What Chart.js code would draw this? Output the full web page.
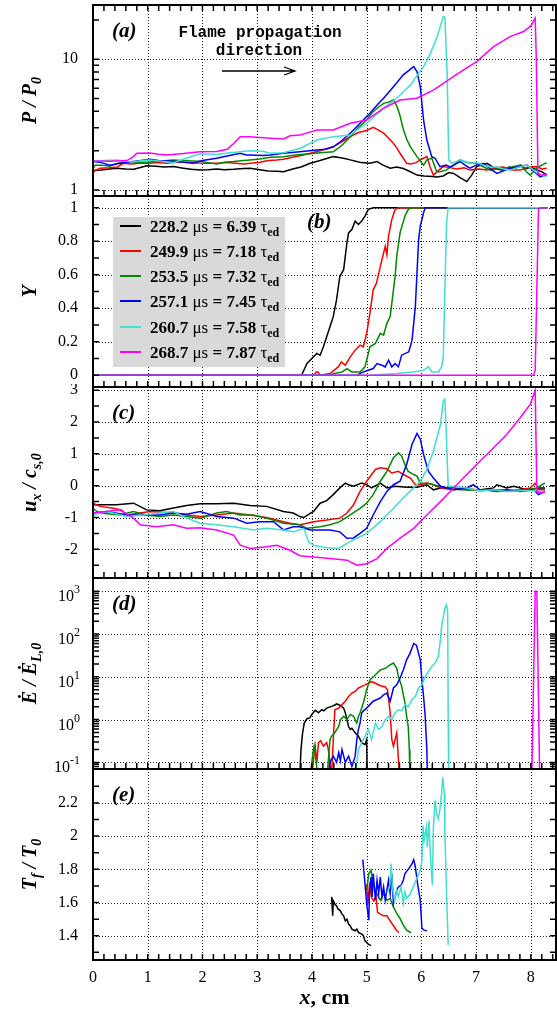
<!DOCTYPE html>
<html>
<head>
<meta charset="utf-8">
<script src="https://cdn.jsdelivr.net/npm/chart.js@4.4.1/dist/chart.umd.min.js"></script>
<style>
  html, body { margin:0; padding:0; background:#fff; }
  #page { position:relative; width:557px; height:1011px; overflow:hidden; background:#fff; }
  #page canvas { position:absolute; left:0; }
  #legend { position:absolute; left:113px; top:217px; width:172px; height:150px; background:#d9d9d9;
            font: bold 17px "Liberation Serif", "DejaVu Serif", serif; color:#000; z-index:5; }
  .row { position:absolute; left:0; width:172px; height:25px; }
  .swatch { position:absolute; left:7px; top:11px; width:21px; height:0; border-top:2px solid #000; }
  .lbl { position:absolute; left:37px; top:0; white-space:nowrap; line-height:25px; }
  .lbl .g { font-weight:normal; }
  .lbl sub { font-size:12px; vertical-align:-4px; line-height:0; }
</style>
</head>
<body>
<div id="page"><div id="legend"></div></div>
<script>
// ---------------- series meta ----------------
const SERIES_TIMES = ['228.2', '249.9', '253.5', '257.1', '260.7', '268.7'];
const SERIES_TAUS  = ['6.39', '7.18', '7.32', '7.45', '7.58', '7.87'];
const SERIES_COLORS = ['#000000', '#ff0000', '#008a00', '#0000ff', '#40e0d0', '#ff00ff'];

// ---------------- x axis ----------------
const X_MIN = 0, X_MAX = 8.46;
const X_MAJOR = [0, 1, 2, 3, 4, 5, 6, 7, 8];
const X_TICK_LABELS = ['0', '1', '2', '3', '4', '5', '6', '7', '8'];

// ---------------- (a) pressure P/P0 ----------------
const A_MAJOR = [1, 10];
const A_MINOR = [2, 3, 4, 5, 6, 7, 8, 9, 20];
const A_LABELS = ['1', '10'];
const P_228 = [[0,1.41],[0.15,1.42],[0.3,1.45],[0.43,1.47],[0.6,1.45],[0.75,1.44],[0.9,1.5],[0.98,1.53],[1.15,1.52],[1.3,1.5],[1.47,1.51],[1.65,1.47],[1.8,1.44],[1.96,1.42],[2.1,1.43],[2.26,1.45],[2.4,1.43],[2.57,1.44],[2.75,1.46],[2.87,1.47],[3.05,1.43],[3.2,1.4],[3.36,1.39],[3.48,1.38],[3.65,1.45],[3.8,1.5],[3.97,1.6],[4.15,1.68],[4.3,1.76],[4.39,1.8],[4.5,1.77],[4.6,1.74],[4.7,1.7],[4.8,1.66],[4.9,1.62],[5.06,1.6],[5.19,1.65],[5.3,1.55],[5.43,1.47],[5.55,1.5],[5.67,1.46],[5.8,1.38],[5.92,1.3],[6.05,1.28],[6.2,1.27],[6.28,1.26],[6.4,1.28],[6.5,1.36],[6.59,1.34],[6.7,1.25],[6.83,1.16],[6.92,1.3],[7.01,1.51],[7.1,1.55],[7.2,1.6],[7.3,1.5],[7.4,1.44],[7.5,1.42],[7.6,1.5],[7.7,1.45],[7.81,1.55],[7.9,1.45],[8.0,1.5],[8.11,1.42],[8.2,1.38],[8.29,1.3]];
const P_249 = [[0,1.37],[0.06,1.42],[0.13,1.47],[0.3,1.48],[0.45,1.5],[0.55,1.6],[0.7,1.58],[0.85,1.6],[1.04,1.6],[1.2,1.62],[1.35,1.6],[1.5,1.63],[1.71,1.63],[1.9,1.61],[2.1,1.6],[2.26,1.6],[2.45,1.62],[2.6,1.6],[2.77,1.58],[2.87,1.6],[3.05,1.63],[3.2,1.68],[3.36,1.7],[3.48,1.72],[3.65,1.78],[3.84,1.85],[3.97,1.91],[4.15,2.0],[4.39,2.14],[4.55,2.35],[4.7,2.56],[4.85,2.75],[5.0,2.85],[5.12,3.02],[5.2,2.9],[5.31,2.72],[5.4,2.5],[5.49,2.27],[5.55,2.1],[5.61,1.91],[5.67,1.75],[5.73,1.6],[5.8,1.58],[5.9,1.62],[6.0,1.72],[6.1,1.8],[6.16,1.5],[6.22,1.3],[6.32,1.42],[6.4,1.51],[6.5,1.49],[6.65,1.45],[6.78,1.48],[6.89,1.42],[7.05,1.45],[7.2,1.42],[7.35,1.48],[7.5,1.5],[7.65,1.42],[7.81,1.42],[7.95,1.5],[8.11,1.51],[8.2,1.45],[8.29,1.47]];
const P_253 = [[0,1.45],[0.04,1.55],[0.15,1.55],[0.3,1.52],[0.45,1.6],[0.62,1.65],[0.8,1.62],[1.04,1.64],[1.2,1.66],[1.47,1.7],[1.6,1.68],[1.8,1.67],[1.96,1.66],[2.1,1.62],[2.26,1.58],[2.4,1.63],[2.57,1.65],[2.75,1.68],[2.87,1.7],[3.05,1.73],[3.24,1.78],[3.48,1.8],[3.7,1.85],[3.97,1.89],[4.15,1.93],[4.39,1.96],[4.55,2.2],[4.7,2.56],[4.85,3.0],[5.0,3.43],[5.1,3.9],[5.19,4.22],[5.31,4.6],[5.4,4.7],[5.49,4.88],[5.55,4.4],[5.61,3.7],[5.67,2.9],[5.74,2.4],[5.8,2.14],[5.92,1.8],[6.04,1.55],[6.1,1.7],[6.19,1.75],[6.28,1.38],[6.34,1.38],[6.45,1.42],[6.59,1.55],[6.71,1.7],[6.83,1.62],[7.0,1.6],[7.14,1.5],[7.26,1.42],[7.38,1.45],[7.5,1.47],[7.65,1.5],[7.81,1.55],[7.92,1.38],[7.99,1.3],[8.11,1.48],[8.2,1.55],[8.29,1.62]];
const P_257 = [[0,1.65],[0.15,1.62],[0.31,1.55],[0.5,1.6],[0.74,1.65],[1.04,1.72],[1.2,1.68],[1.53,1.65],[1.7,1.62],[1.83,1.6],[2.0,1.68],[2.26,1.75],[2.45,1.82],[2.69,1.91],[2.8,1.85],[2.87,1.85],[3.1,1.84],[3.24,1.85],[3.48,1.91],[3.78,1.96],[4.09,2.02],[4.25,2.05],[4.39,2.14],[4.52,2.34],[4.7,2.72],[4.88,3.24],[5.06,3.86],[5.2,4.5],[5.31,5.03],[5.49,6.17],[5.67,7.6],[5.86,8.78],[5.92,8.05],[5.98,6.17],[6.04,3.43],[6.1,2.41],[6.19,1.8],[6.25,1.75],[6.34,1.51],[6.45,1.55],[6.53,1.5],[6.71,1.65],[6.85,1.5],[6.89,1.47],[7.0,1.55],[7.14,1.6],[7.26,1.45],[7.38,1.34],[7.5,1.4],[7.62,1.47],[7.75,1.5],[7.93,1.55],[8.05,1.4],[8.17,1.26],[8.29,1.32]];
const P_260 = [[0,1.67],[0.2,1.68],[0.43,1.7],[0.6,1.66],[0.74,1.64],[0.9,1.68],[1.04,1.7],[1.3,1.65],[1.47,1.62],[1.7,1.75],[1.96,1.89],[2.26,1.87],[2.5,1.93],[2.87,2.0],[3.1,1.98],[3.24,1.91],[3.48,1.93],[3.78,2.08],[4.09,2.41],[4.39,2.56],[4.7,2.63],[5.0,3.24],[5.31,4.22],[5.55,5.03],[5.8,6.36],[6.04,8.78],[6.16,11],[6.28,14.5],[6.4,21.2],[6.43,21],[6.47,8],[6.5,1.7],[6.56,1.6],[6.71,1.7],[6.89,1.6],[7.0,1.62],[7.14,1.55],[7.26,1.5],[7.38,1.5],[7.5,1.45],[7.62,1.42],[7.75,1.48],[7.93,1.55],[8.05,1.42],[8.11,1.35],[8.2,1.3],[8.29,1.26]];
const P_268 = [[0,1.67],[0.3,1.66],[0.62,1.68],[0.74,1.8],[0.8,1.91],[1.04,1.92],[1.2,1.88],[1.35,1.85],[1.5,1.88],[1.65,1.9],[1.96,1.96],[2.26,1.97],[2.45,2.05],[2.57,2.27],[2.69,2.56],[2.87,2.56],[3.05,2.52],[3.24,2.49],[3.48,2.46],[3.6,2.6],[3.78,2.63],[4.09,2.88],[4.39,2.88],[4.7,3.24],[5.0,3.43],[5.31,4.22],[5.61,4.88],[5.92,5.03],[6.22,5.8],[6.53,7.1],[6.75,8.2],[7.01,9.6],[7.32,12.5],[7.62,14.9],[7.87,16.3],[8.0,18],[8.08,20.6],[8.1,10],[8.13,1.34],[8.2,1.3],[8.29,1.32]];

// ---------------- (b) progress variable Y ----------------
const B_MAJOR = [0, 0.2, 0.4, 0.6, 0.8, 1];
const B_MINOR = [0.1, 0.3, 0.5, 0.7, 0.9];
const B_LABELS = ['0', '0.2', '0.4', '0.6', '0.8', '1'];
const Y_228 = [[0,0],[3.81,0],[3.91,0.07],[4.03,0.11],[4.09,0.13],[4.15,0.12],[4.21,0.17],[4.27,0.23],[4.33,0.29],[4.39,0.35],[4.45,0.45],[4.51,0.59],[4.58,0.63],[4.64,0.79],[4.67,0.85],[4.73,0.87],[4.79,0.92],[4.85,0.9],[4.91,0.92],[4.97,0.95],[5.03,0.99],[5.12,1],[8.3,1]];
const Y_249 = [[0,0],[4.03,0],[4.08,0.02],[4.11,0.02],[4.15,0],[4.33,0.01],[4.48,0.05],[4.54,0.08],[4.61,0.06],[4.7,0.11],[4.79,0.15],[4.88,0.18],[4.94,0.17],[5.0,0.25],[5.06,0.37],[5.12,0.51],[5.18,0.55],[5.25,0.65],[5.31,0.73],[5.34,0.77],[5.37,0.72],[5.4,0.83],[5.46,0.93],[5.52,0.99],[5.58,1],[8.3,1]];
const Y_253 = [[0,0],[4.33,0],[4.39,0.01],[4.55,0.02],[4.64,0.04],[4.73,0.02],[4.88,0.02],[4.97,0.05],[5.06,0.17],[5.16,0.19],[5.25,0.25],[5.31,0.24],[5.37,0.31],[5.43,0.35],[5.49,0.51],[5.52,0.59],[5.55,0.71],[5.61,0.85],[5.7,0.95],[5.76,0.99],[5.82,1],[8.3,1]];
const Y_257 = [[0,0],[4.82,0],[4.94,0.02],[5.03,0.03],[5.12,0.04],[5.19,0.07],[5.28,0.06],[5.34,0.05],[5.4,0.09],[5.46,0.05],[5.52,0.07],[5.58,0.05],[5.64,0.12],[5.77,0.14],[5.83,0.21],[5.89,0.41],[5.92,0.61],[5.95,0.81],[5.98,0.89],[6.01,0.93],[6.04,0.97],[6.07,1],[8.3,1]];
const Y_260 = [[0,0],[5.06,0],[5.55,0.01],[5.86,0.02],[6.04,0.03],[6.13,0.05],[6.19,0.02],[6.31,0.02],[6.37,0.05],[6.4,0.11],[6.43,0.51],[6.46,0.91],[6.49,1],[8.3,1]];
const Y_268 = [[0,0],[8.05,0],[8.08,0.03],[8.11,0.51],[8.14,0.99],[8.17,1],[8.3,1]];

// ---------------- (c) flow velocity ux/cs0 ----------------
const C_MAJOR = [-2, -1, 0, 1, 2, 3];
const C_MINOR = [-2.5, -1.5, -0.5, 0.5, 1.5, 2.5];
const C_LABELS = ['-2', '-1', '0', '1', '2', '3'];
const U_228 = [[0,-0.6],[0.43,-0.6],[0.74,-0.55],[0.98,-0.76],[1.22,-0.79],[1.47,-0.7],[1.71,-0.62],[1.96,-0.57],[2.26,-0.57],[2.57,-0.55],[2.87,-0.62],[3.17,-0.65],[3.48,-0.81],[3.54,-0.83],[3.66,-0.86],[3.78,-0.97],[3.85,-1.0],[3.94,-0.9],[4.03,-0.81],[4.15,-0.55],[4.27,-0.47],[4.39,-0.28],[4.51,-0.07],[4.61,0.08],[4.67,0.03],[4.76,-0.02],[4.91,0.08],[5.0,0.03],[5.09,-0.07],[5.25,0.08],[5.37,-0.07],[5.52,-0.02],[5.73,-0.05],[5.92,-0.05],[6.1,0.03],[6.22,-0.13],[6.35,-0.07],[6.59,-0.07],[6.83,-0.13],[7.08,-0.13],[7.32,-0.07],[7.38,0.03],[7.56,-0.07],[7.69,-0.02],[7.93,-0.13],[8.17,-0.07],[8.26,-0.07]];
const U_249 = [[0,-0.55],[0.13,-0.65],[0.37,-0.71],[0.52,-0.76],[0.62,-0.92],[0.86,-0.86],[1.04,-0.81],[1.47,-0.86],[1.71,-0.92],[1.96,-0.97],[2.26,-0.92],[2.57,-0.86],[2.87,-0.92],[3.17,-1.0],[3.48,-1.13],[3.6,-1.18],[3.78,-1.23],[3.91,-1.18],[4.03,-1.13],[4.27,-1.08],[4.51,-1.02],[4.64,-0.86],[4.76,-0.6],[4.88,-0.18],[5.0,0.14],[5.16,0.51],[5.25,0.56],[5.37,0.53],[5.46,0.4],[5.58,0.45],[5.67,0.35],[5.8,0.24],[5.89,0.03],[5.98,0.03],[6.1,0.08],[6.22,0.03],[6.35,-0.07],[6.59,-0.13],[6.83,-0.07],[7.07,-0.16],[7.32,-0.13],[7.56,-0.16],[7.81,-0.13],[7.99,-0.07],[8.08,0.08],[8.14,-0.13],[8.26,-0.13]];
const U_253 = [[0,-0.71],[0.07,-0.81],[0.13,-0.86],[0.49,-0.92],[0.74,-0.81],[0.98,-0.92],[1.22,-0.97],[1.47,-0.92],[1.71,-0.97],[1.96,-1.02],[2.26,-0.86],[2.44,-0.81],[2.69,-0.92],[2.93,-0.92],[3.17,-1.02],[3.48,-1.18],[3.78,-1.23],[3.91,-1.34],[4.15,-1.29],[4.33,-1.23],[4.51,-1.13],[4.7,-0.92],[4.88,-0.71],[5.0,-0.55],[5.12,-0.28],[5.25,0.14],[5.37,0.45],[5.49,0.88],[5.58,1.03],[5.64,0.93],[5.7,0.66],[5.76,0.45],[5.86,0.35],[5.92,0.3],[5.98,0.08],[6.1,0.08],[6.22,0.03],[6.46,-0.07],[6.71,-0.13],[6.95,-0.13],[7.2,-0.13],[7.38,-0.18],[7.69,-0.16],[7.93,-0.13],[8.11,-0.07],[8.2,0.03],[8.26,0.08]];
const U_257 = [[0,-0.86],[0.25,-0.81],[0.62,-0.92],[0.92,-0.92],[1.22,-0.92],[1.47,-0.86],[1.71,-0.9],[1.96,-0.81],[2.26,-0.97],[2.57,-1.02],[2.81,-1.18],[3.05,-1.13],[3.3,-1.13],[3.48,-1.39],[3.66,-1.29],[3.78,-1.29],[3.97,-1.39],[4.15,-1.39],[4.33,-1.39],[4.51,-1.45],[4.64,-1.65],[4.76,-1.64],[4.88,-1.5],[5.0,-1.34],[5.12,-0.92],[5.25,-0.5],[5.37,-0.18],[5.49,0.03],[5.61,0.14],[5.73,0.66],[5.83,1.3],[5.92,1.64],[5.98,1.46],[6.04,0.98],[6.13,0.45],[6.22,0.24],[6.35,-0.02],[6.59,-0.13],[6.83,-0.07],[6.95,0.03],[7.07,-0.13],[7.32,-0.16],[7.56,-0.13],[7.81,-0.18],[8.05,-0.13],[8.14,-0.28],[8.26,-0.18]];
const U_260 = [[0,-0.92],[0.25,-0.81],[0.62,-0.97],[0.92,-0.92],[1.22,-0.86],[1.47,-0.81],[1.71,-1.02],[1.96,-1.18],[2.26,-1.23],[2.57,-1.29],[2.93,-1.39],[3.17,-1.34],[3.48,-1.39],[3.66,-1.45],[3.85,-1.34],[3.94,-1.77],[4.03,-1.87],[4.27,-1.95],[4.49,-1.97],[4.64,-1.81],[4.82,-1.65],[5.0,-1.5],[5.25,-1.13],[5.49,-0.71],[5.73,-0.28],[5.98,0.14],[6.1,0.51],[6.22,1.09],[6.35,1.93],[6.4,2.67],[6.43,2.72],[6.46,1.4],[6.49,-0.02],[6.59,-0.02],[6.83,-0.07],[7.07,-0.16],[7.32,-0.13],[7.56,-0.18],[7.81,-0.16],[8.05,-0.16],[8.26,-0.2]];
const U_268 = [[0,-0.86],[0.25,-0.81],[0.49,-0.76],[0.74,-1.02],[0.86,-1.23],[1.16,-1.29],[1.47,-1.23],[1.71,-1.34],[1.96,-1.32],[2.26,-1.39],[2.57,-1.55],[2.69,-1.87],[2.87,-1.97],[3.17,-1.92],[3.36,-1.87],[3.6,-2.03],[3.78,-2.2],[4.03,-2.24],[4.33,-2.29],[4.64,-2.34],[4.82,-2.5],[5.0,-2.45],[5.19,-2.29],[5.37,-1.97],[5.61,-1.65],[5.86,-1.34],[6.1,-0.92],[6.35,-0.5],[6.59,-0.07],[6.83,0.35],[7.07,0.77],[7.32,1.19],[7.56,1.61],[7.81,2.14],[7.99,2.56],[8.08,2.99],[8.11,-0.18],[8.17,-0.23],[8.26,-0.2]];

// ---------------- (d) energy release rate ----------------
const D_MAJOR = [0.1, 1, 10, 100, 1000];
const D_MINOR = [0.08,0.09,0.2,0.3,0.4,0.5,0.6,0.7,0.8,0.9,2,3,4,5,6,7,8,9,20,30,40,50,60,70,80,90,200,300,400,500,600,700,800,900,2000];
const D_EXPONENTS = ['-1', '0', '1', '2', '3'];
const E_228 = [[3.78,0.05],[3.8,0.2],[3.83,0.49],[3.86,0.83],[3.91,1.05],[3.96,1.1],[4.0,1.32],[4.06,1.66],[4.12,1.45],[4.18,1.7],[4.22,1.6],[4.27,1.86],[4.36,2.04],[4.42,2.2],[4.45,2.34],[4.52,2.14],[4.58,1.86],[4.61,1.45],[4.67,0.69],[4.7,0.59],[4.73,0.63],[4.79,0.49],[4.85,0.41],[4.91,0.29],[4.97,0.26],[5.0,0.34],[5.01,0.05]];
const E_249 = [[4.0,0.05],[4.05,0.2],[4.06,0.24],[4.09,0.1],[4.12,0.29],[4.16,0.32],[4.21,0.24],[4.27,0.29],[4.3,0.2],[4.33,0.1],[4.36,0.05],[4.39,0.34],[4.42,1.7],[4.49,1.86],[4.55,2.24],[4.61,2.69],[4.67,3.47],[4.73,4.17],[4.79,4.57],[4.85,5.5],[4.91,6.0],[4.97,6.5],[5.03,7.1],[5.09,7.8],[5.16,7.1],[5.25,6.2],[5.34,5.8],[5.38,5.0],[5.43,1.45],[5.46,0.34],[5.49,0.24],[5.52,0.34],[5.55,0.49],[5.58,0.12],[5.6,0.05]];
const E_253 = [[3.97,0.05],[4.02,0.17],[4.04,0.24],[4.08,0.1],[4.1,0.05],[4.28,0.05],[4.33,0.34],[4.36,0.41],[4.42,0.5],[4.49,0.69],[4.52,1.0],[4.58,1.2],[4.64,1.0],[4.7,1.32],[4.76,1.2],[4.82,0.83],[4.85,1.2],[4.88,1.45],[4.94,2.45],[5.0,5.0],[5.06,8.5],[5.16,11.2],[5.25,14.5],[5.34,15.8],[5.43,19],[5.49,21],[5.55,15.8],[5.58,10.2],[5.64,6.0],[5.7,2.45],[5.73,1.2],[5.76,0.69],[5.78,0.2],[5.79,0.05]];
const E_257 = [[4.3,0.05],[4.33,0.1],[4.39,0.14],[4.45,0.1],[4.49,0.17],[4.52,0.11],[4.55,0.2],[4.61,0.1],[4.67,0.14],[4.73,0.08],[4.79,0.14],[4.82,0.34],[4.85,0.59],[4.88,0.83],[4.91,1.45],[4.94,1.6],[5.0,1.86],[5.06,2.24],[5.12,2.69],[5.19,2.95],[5.25,3.2],[5.31,3.8],[5.37,4.17],[5.43,2.69],[5.49,5.5],[5.55,6.5],[5.61,9.3],[5.67,14.5],[5.73,25],[5.79,35],[5.86,60],[5.91,55],[5.95,35],[5.98,25],[6.01,8.5],[6.04,3.47],[6.07,1.2],[6.1,0.2],[6.11,0.05]];
const E_260 = [[4.79,0.05],[4.85,0.2],[4.91,0.29],[4.97,0.41],[5.03,0.59],[5.09,0.34],[5.16,0.83],[5.22,0.59],[5.28,0.69],[5.34,1.0],[5.4,1.2],[5.46,1.0],[5.52,1.45],[5.58,1.7],[5.64,1.6],[5.7,2.24],[5.76,2.0],[5.83,2.95],[5.89,3.47],[5.95,5.5],[6.01,6.5],[6.07,10],[6.13,13.5],[6.19,17.4],[6.25,21],[6.31,30],[6.34,60],[6.37,150],[6.4,250],[6.43,400],[6.46,480],[6.48,350],[6.49,1],[6.5,0.05]];
const E_268 = [[8.02,0.065],[8.08,1000],[8.11,1000],[8.16,0.065]];

// ---------------- (e) flame temperature ----------------
const E5_MAJOR = [1.4, 1.6, 1.8, 2.0, 2.2];
const E5_MINOR = [1.3, 1.5, 1.7, 1.9, 2.1, 2.3];
const E5_LABELS = ['1.4', '1.6', '1.8', '2', '2.2'];
const T_228 = [[4.36,1.634],[4.38,1.52],[4.39,1.61],[4.42,1.59],[4.45,1.58],[4.48,1.56],[4.52,1.55],[4.55,1.53],[4.58,1.52],[4.61,1.49],[4.64,1.5],[4.67,1.47],[4.7,1.46],[4.73,1.44],[4.79,1.43],[4.82,1.44],[4.85,1.42],[4.91,1.41],[4.94,1.4],[4.97,1.37],[5.03,1.35],[5.08,1.34]];
const T_249 = [[5.0,1.71],[5.02,1.59],[5.05,1.7],[5.09,1.63],[5.13,1.61],[5.17,1.64],[5.2,1.54],[5.25,1.53],[5.31,1.52],[5.37,1.52],[5.43,1.49],[5.49,1.46],[5.55,1.43],[5.59,1.42]];
const T_253 = [[5.0,1.674],[5.04,1.774],[5.08,1.794],[5.11,1.734],[5.15,1.674],[5.2,1.644],[5.25,1.614],[5.31,1.654],[5.37,1.614],[5.43,1.624],[5.49,1.574],[5.55,1.534],[5.61,1.504],[5.67,1.464],[5.73,1.434],[5.81,1.418]];
const T_257 = [[4.93,1.858],[4.97,1.714],[5.0,1.594],[5.04,1.494],[5.05,1.654],[5.08,1.754],[5.1,1.634],[5.12,1.774],[5.16,1.614],[5.19,1.734],[5.22,1.654],[5.25,1.754],[5.28,1.634],[5.31,1.694],[5.34,1.614],[5.37,1.674],[5.4,1.734],[5.43,1.654],[5.46,1.774],[5.49,1.594],[5.52,1.634],[5.55,1.674],[5.58,1.694],[5.63,1.704],[5.67,1.734],[5.7,1.774],[5.77,1.804],[5.83,1.834],[5.86,1.858],[5.89,1.814],[5.93,1.714],[5.98,1.614],[6.01,1.444],[6.05,1.434],[6.1,1.43]];
const T_260 = [[5.37,1.654],[5.42,1.694],[5.45,1.834],[5.47,1.694],[5.51,1.614],[5.55,1.674],[5.58,1.634],[5.63,1.694],[5.67,1.594],[5.7,1.664],[5.73,1.624],[5.8,1.654],[5.98,1.794],[6.01,1.854],[6.03,2.064],[6.05,1.974],[6.09,2.054],[6.11,1.934],[6.14,2.094],[6.16,1.914],[6.2,1.704],[6.22,2.054],[6.25,2.214],[6.28,2.134],[6.31,2.104],[6.34,2.164],[6.37,2.254],[6.39,2.354],[6.42,2.254],[6.43,2.014],[6.46,1.654],[6.49,1.344]];
const T_268 = [];

// ---------------- layout constants ----------------
const SERIF = '"Liberation Serif", "DejaVu Serif", serif';
const PANEL_TOPS = [5, 196, 387, 578, 769];
const PANEL_H = 191;
const PLOT_LEFT = 93, PAGE_W = 557, PAGE_H = 1011, PLOT_RIGHT = 556;
const X_MINOR = [];
for (let k = 1; k <= 42; k++) X_MINOR.push(k * 0.2);

const PANELS = [
  { type:'logarithmic', min:0.9, max:26, major:A_MAJOR, minor:A_MINOR, labels:A_LABELS,
    series:[P_228,P_249,P_253,P_257,P_260,P_268], tag:'(a)', tagDx:19,
    title:[['P',0],[' / ',0],['P',0],['0',1]] },
  { type:'linear', min:-0.07, max:1.07, major:B_MAJOR, minor:B_MINOR, labels:B_LABELS,
    series:[Y_228,Y_249,Y_253,Y_257,Y_260,Y_268], tag:'(b)', tagDx:214,
    title:[['Y',0]] },
  { type:'linear', min:-2.9, max:3.1, major:C_MAJOR, minor:C_MINOR, labels:C_LABELS,
    series:[U_228,U_249,U_253,U_257,U_260,U_268], tag:'(c)', tagDx:19,
    title:[['u',0],['x',1],[' / c',0],['s,0',1]] },
  { type:'logarithmic', min:0.07, max:2050, major:D_MAJOR, minor:D_MINOR, labels:null,
    series:[E_228,E_249,E_253,E_257,E_260,E_268], tag:'(d)', tagDx:19,
    title:[['\u0116',0],[' / ',0],['\u0116',0],['L,0',1]] },
  { type:'linear', min:1.254, max:2.404, major:E5_MAJOR, minor:E5_MINOR, labels:E5_LABELS,
    series:[T_228,T_249,T_253,T_257,T_260,T_268], tag:'(e)', tagDx:19,
    title:[['T',0],['f',1],[' / T',0],['0',1]] }
];

function drawTitle(ctx, cx, cy, parts) {
  ctx.save();
  ctx.translate(cx, cy);
  ctx.rotate(-Math.PI / 2);
  ctx.fillStyle = '#000';
  ctx.textAlign = 'left';
  ctx.textBaseline = 'alphabetic';
  const big = 'italic bold 20px ' + SERIF, small = 'italic bold 14px ' + SERIF;
  let w = 0;
  parts.forEach(p => { ctx.font = p[1] ? small : big; w += ctx.measureText(p[0]).width; });
  let xx = -w / 2;
  parts.forEach(p => {
    ctx.font = p[1] ? small : big;
    ctx.fillText(p[0], xx, p[1] ? 12 : 7);
    xx += ctx.measureText(p[0]).width;
  });
  ctx.restore();
}

function makePlugin(cfg, idx) {
  return {
    id: 'decor' + idx,
    beforeDatasetsDraw(chart) {
      const { ctx, chartArea: a, scales: { x, y } } = chart;
      ctx.save();
      ctx.strokeStyle = '#222';
      ctx.lineWidth = 1;
      ctx.setLineDash([1, 2]);
      ctx.beginPath();
      X_MAJOR.forEach(v => {
        const px = Math.round(x.getPixelForValue(v)) + 0.5;
        if (px > a.left + 2 && px < a.right - 2) { ctx.moveTo(px, a.top); ctx.lineTo(px, a.bottom); }
      });
      cfg.major.forEach(v => {
        const py = Math.round(y.getPixelForValue(v)) + 0.5;
        if (py > a.top + 2 && py < a.bottom - 2) { ctx.moveTo(a.left, py); ctx.lineTo(a.right, py); }
      });
      ctx.stroke();
      ctx.restore();
    },
    afterDraw(chart) {
      const { ctx, chartArea: a, scales: { x, y } } = chart;
      ctx.save();
      ctx.setLineDash([]);
      ctx.strokeStyle = '#000';
      ctx.lineWidth = 1.5;
      ctx.beginPath();
      cfg.major.concat(cfg.minor).forEach(v => {
        const py = y.getPixelForValue(v);
        if (py < a.top + 1 || py > a.bottom - 1) return;
        ctx.moveTo(a.left, py); ctx.lineTo(a.left + 6, py);
        ctx.moveTo(a.right, py); ctx.lineTo(a.right - 6, py);
      });
      X_MINOR.forEach(v => {
        const px = x.getPixelForValue(v);
        if (px > a.right - 1) return;
        ctx.moveTo(px, a.bottom); ctx.lineTo(px, a.bottom - 6);
        if (idx === 0) { ctx.moveTo(px, a.top); ctx.lineTo(px, a.top + 6); }
      });
      ctx.stroke();
      ctx.lineWidth = 2;
      ctx.strokeRect(a.left, a.top, a.right - a.left, a.bottom - a.top);

      // panel tag
      ctx.fillStyle = '#000';
      ctx.font = 'italic bold 21px ' + SERIF;
      ctx.textAlign = 'left';
      ctx.textBaseline = 'middle';
      ctx.fillText(cfg.tag, a.left + cfg.tagDx, a.top + 27);

      // y title
      drawTitle(ctx, 29, (a.top + a.bottom) / 2, cfg.title);

      // power-of-ten labels for panel d
      if (!cfg.labels) {
        cfg.major.forEach((v, k) => {
          const py = y.getPixelForValue(v);
          const ex = D_EXPONENTS[k];
          ctx.font = '12px ' + SERIF;
          const ew = ctx.measureText(ex).width;
          ctx.textAlign = 'left'; ctx.textBaseline = 'alphabetic';
          ctx.fillText(ex, 80 - ew, py + 2);
          ctx.font = '16px ' + SERIF;
          ctx.textAlign = 'right';
          ctx.fillText('10', 80 - ew, py + 10);
        });
      }

      // annotation in panel a
      if (idx === 0) {
        ctx.font = 'bold 16px "Liberation Mono", "DejaVu Sans Mono", monospace';
        ctx.textAlign = 'center'; ctx.textBaseline = 'middle';
        ctx.fillText('Flame propagation', 260, a.top + 28);
        ctx.fillText('direction', 259, a.top + 46);
        ctx.lineWidth = 1.3;
        ctx.beginPath();
        ctx.moveTo(222, a.top + 66); ctx.lineTo(295, a.top + 66);
        ctx.moveTo(284, a.top + 62); ctx.lineTo(295, a.top + 66); ctx.lineTo(284, a.top + 70);
        ctx.stroke();
      }

      // x title in panel e
      if (idx === 4) {
        ctx.textBaseline = 'alphabetic'; ctx.textAlign = 'left';
        const f1 = 'italic bold 22px ' + SERIF, f2 = 'bold 22px ' + SERIF;
        ctx.font = f1; const w1 = ctx.measureText('x').width;
        ctx.font = f2; const w2 = ctx.measureText(', cm').width;
        const cx = (a.left + a.right) / 2, x0 = cx - (w1 + w2) / 2, by = a.bottom + 44;
        ctx.font = f1; ctx.fillText('x', x0, by);
        ctx.font = f2; ctx.fillText(', cm', x0 + w1, by);
      }
      ctx.restore();
    }
  };
}

const page = document.getElementById('page');
PANELS.forEach((cfg, idx) => {
  const last = idx === PANELS.length - 1;
  const top = PANEL_TOPS[idx] - 3;
  const h = last ? PAGE_H - top : PANEL_H + 6;
  const cv = document.createElement('canvas');
  cv.width = PAGE_W; cv.height = h;
  cv.style.top = top + 'px';
  cv.style.width = PAGE_W + 'px'; cv.style.height = h + 'px';
  page.insertBefore(cv, document.getElementById('legend'));

  const datasets = cfg.series.map((s, i) => ({
    label: SERIES_TIMES[i],
    data: s.map(p => ({ x: p[0], y: p[1] })),
    borderColor: SERIES_COLORS[i],
    backgroundColor: SERIES_COLORS[i],
    borderWidth: 1.5,
    pointRadius: 0,
    fill: false,
    tension: 0,
    order: 5 - i
  }));

  new Chart(cv, {
    type: 'line',
    data: { datasets },
    options: {
      responsive: false,
      animation: false,
      devicePixelRatio: 1,
      events: [],
      layout: { padding: { left: 0, right: PAGE_W - PLOT_RIGHT, top: 3, bottom: last ? 0 : 3 } },
      plugins: { legend: { display: false }, tooltip: { enabled: false } },
      scales: {
        x: {
          type: 'linear', min: X_MIN, max: X_MAX, bounds: 'data',
          grid: { display: false, drawTicks: false },
          border: { display: false },
          ticks: { display: last, color: '#000', padding: 8, font: { family: SERIF, size: 16 },
                   callback: (v) => X_TICK_LABELS[X_MAJOR.indexOf(v)] },
          afterBuildTicks: (s) => { s.ticks = X_MAJOR.map(v => ({ value: v })); },
          afterFit: (s) => { s.height = last ? (h - 3 - PANEL_H) : 0; s.paddingLeft = 0; s.paddingRight = 0; s.paddingTop = 0; s.paddingBottom = 0; }
        },
        y: {
          type: cfg.type, min: cfg.min, max: cfg.max, bounds: 'data', position: 'left',
          grid: { display: false, drawTicks: false },
          border: { display: false },
          ticks: { display: !!cfg.labels, color: '#000', padding: 15, font: { family: SERIF, size: 16 },
                   callback: (v) => cfg.labels ? cfg.labels[cfg.major.indexOf(v)] : '' },
          afterBuildTicks: (s) => { s.ticks = cfg.major.map(v => ({ value: v })); },
          afterFit: (s) => { s.width = PLOT_LEFT; s.paddingTop = 0; s.paddingBottom = 0; s.paddingLeft = 0; s.paddingRight = 0; }
        }
      }
    },
    plugins: [makePlugin(cfg, idx)]
  });
});

// legend built from the series arrays
const legend = document.getElementById('legend');
SERIES_TIMES.forEach((t, i) => {
  const row = document.createElement('div');
  row.className = 'row';
  row.style.top = Math.round(-3.5 + 25.3 * i) + 'px';
  row.innerHTML = '<div class="swatch" style="border-top-color:' + SERIES_COLORS[i] + '"></div>' +
    '<div class="lbl">' + t + ' <span class="g">\u03bcs</span> = ' + SERIES_TAUS[i] +
    ' <span class="g">\u03c4</span><sub>ed</sub></div>';
  legend.appendChild(row);
});
</script>
</body>
</html>
